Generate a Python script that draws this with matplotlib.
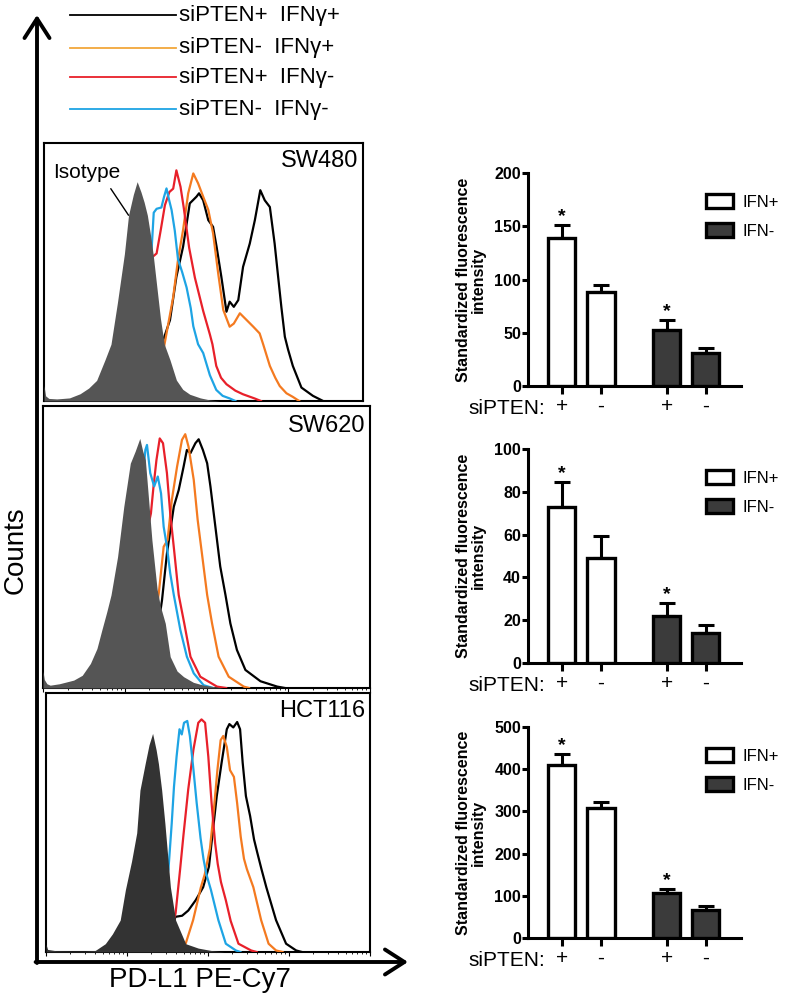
import matplotlib
matplotlib.use("Agg")
import matplotlib.pyplot as plt
from matplotlib.patches import Patch
import numpy as np

plt.rcParams["font.family"] = ["Liberation Sans", "DejaVu Sans"]

W, H = 789, 1000

# histogram traces, x = % of panel width, y = % of panel height
sw480_iso_x = [0, 0.5, 1.5, 4, 8, 11.3, 14, 16.5, 19.1, 21, 23, 25.2, 26.5, 28, 29.2, 30.4, 31.4, 32.4, 33.3, 34.2, 35.3, 36.5, 37.7, 39.5, 41.5, 43.5, 45.7, 49, 52, 55]
sw480_iso_y = [6, 2, 1, 0.8, 1.2, 2.8, 5, 8, 15.9, 22, 38, 57, 72, 80, 85, 81, 77, 72, 65, 57, 45, 32, 22, 15.9, 8.1, 4.5, 2.6, 1.2, 0.4, 0]
sw480_blue_x = [28, 33.7, 34.4, 35.3, 36.8, 37.6, 38.4, 39.2, 40, 41, 42, 43.3, 44.7, 46, 46.8, 48.3, 49.9, 52, 54, 56, 58.2, 60]
sw480_blue_y = [30, 58, 73, 74.5, 75, 79, 82.4, 78, 74, 66, 55, 50, 44, 36, 29, 22, 18.6, 10, 4.3, 2, 1, 0]
sw480_red_x = [28, 33.9, 35.3, 36.6, 37.9, 39.3, 40.5, 41.5, 42.8, 43.8, 45.5, 47.3, 49.9, 52, 52.8, 54, 55.5, 57.2, 60, 62.4, 66, 68]
sw480_red_y = [30, 55.7, 57.2, 66.3, 75.9, 81, 82.3, 89.4, 83, 75, 59.4, 47.8, 34.9, 25.8, 22, 13.6, 9, 6.5, 4, 2.6, 1, 0]
sw480_orange_x = [36, 40.5, 42, 43.6, 45.2, 46.8, 48.3, 49.9, 51.5, 53, 54.6, 56.2, 58.2, 59.5, 61.4, 63.5, 65.6, 67.6, 68.7, 70.8, 72.5, 73.9, 76, 78, 80]
sw480_orange_y = [10, 40.3, 54.7, 66.3, 80.5, 88.2, 84.4, 79.2, 74.1, 65, 49.5, 35.3, 28.8, 30, 34, 31.4, 28.8, 26.2, 22, 13.6, 9, 5.8, 3, 1.6, 0]
sw480_black_x = [36, 37.4, 39.5, 41.5, 43.6, 45.7, 47.8, 48.6, 49.9, 51.5, 53, 54.1, 55.6, 57.2, 58.2, 59.5, 60.9, 62.4, 64.5, 66.1, 67.8, 69.2, 70.8, 72.3, 73.4, 74.4, 75.5, 76.5, 78, 80.7, 84.3, 87.5]
sw480_black_y = [10, 23.7, 31.4, 48.1, 59.8, 76.6, 79.2, 80.5, 77.8, 70.1, 67.5, 59.8, 48.1, 34.6, 38.5, 36.5, 39.1, 52, 61, 70.1, 81.7, 77.8, 75.2, 61, 48.1, 36.5, 24.9, 20, 13.6, 5.2, 2, 0]

sw620_iso_x = [0, 0.4, 1.2, 2.2, 5, 9.4, 12, 14.5, 16.5, 18, 19.5, 20.8, 22.8, 24.7, 26.7, 28.2, 29.6, 30.5, 31.3, 32.3, 33.3, 34.9, 35.9, 37.4, 38.9, 41, 43, 46, 49.1, 55]
sw620_iso_y = [6, 3, 1.5, 1, 1.5, 2.8, 4.5, 8.7, 14, 20.6, 27, 33, 46.5, 64.3, 79.7, 84, 88.5, 84, 80.9, 66.7, 52.5, 35, 29, 22.9, 11.1, 6, 4, 2, 1, 0]
sw620_blue_x = [28, 31.3, 31.8, 32.8, 34, 35.1, 36.1, 36.9, 37.9, 38.9, 40, 42, 44, 46.1, 49.1, 52]
sw620_blue_y = [40, 84.4, 86.2, 76.2, 71.5, 75, 69, 57.2, 50.1, 40.7, 33, 20.6, 11.1, 5.2, 1, 0]
sw620_red_x = [29, 33, 33.8, 34.7, 35.7, 36.7, 37.9, 38.9, 40.2, 41.5, 43.2, 45.1, 48.1, 53.2, 56]
sw620_red_y = [40, 61.9, 71.5, 80.9, 88.5, 86.8, 76.2, 62, 47.7, 33, 22.9, 11.1, 4, 0.5, 0]
sw620_orange_x = [33, 35.4, 36.9, 38.1, 39.4, 41, 42.5, 43.5, 44.5, 46.1, 47.3, 48.6, 50.2, 51.7, 53.7, 56.8, 61.4, 63]
sw620_orange_y = [15, 33.5, 50.1, 52.5, 66.7, 78.5, 88, 90, 85.6, 73.8, 59.6, 47.7, 33, 22.9, 11.1, 4, 0.5, 0]
sw620_black_x = [34, 36.4, 37.9, 40, 41.5, 43, 44, 45.1, 46.6, 47.6, 48.9, 50.2, 51.2, 52.7, 54.2, 55.8, 57.3, 59.3, 61.9, 66.5, 71.6, 74]
sw620_black_y = [12, 31.2, 47.7, 64.3, 70.2, 78.5, 84.4, 83.3, 86.8, 88.2, 84.4, 79.7, 71.5, 57.3, 43.1, 33, 22.9, 13.5, 6.4, 2.4, 0.5, 0]

hct116_iso_x = [0, 0.5, 3, 8, 12, 15.2, 18.3, 20.5, 22.9, 24.5, 26.4, 28, 29, 30.6, 31.8, 32.9, 34, 34.7, 35.7, 36.7, 37.7, 38.4, 40, 43.1, 47, 50.9, 55]
hct116_iso_y = [3, 1, 0.5, 0.4, 0.4, 0.6, 3.2, 7, 12.3, 24, 35, 46, 62.5, 72.7, 80, 84.4, 78, 72.7, 62.5, 49.6, 35, 25, 12.3, 3.2, 1.5, 0.6, 0]
hct116_blue_x = [36, 37.8, 38.8, 39.5, 40.3, 41.2, 41.9, 42.6, 43.6, 44.4, 45.5, 46.5, 47.7, 48.6, 49.5, 50.9, 53.2, 55.5, 58.6, 60]
hct116_blue_y = [20, 32, 49.6, 63.8, 75.4, 86, 84, 88.5, 89.2, 83.4, 70.5, 57.6, 44, 36, 30, 24, 12.3, 3.2, 0.6, 0]
hct116_red_x = [38, 40, 41.4, 42.4, 43.9, 45.5, 47, 48, 49.1, 50.1, 51.1, 52.2, 53, 54, 55.5, 57, 59.4, 63.3, 65]
hct116_red_y = [5, 15, 32, 44.8, 62.8, 78.1, 88.5, 89.8, 88.5, 75.4, 57.6, 42, 34, 27, 20, 12, 3.2, 0.6, 0]
hct116_orange_x = [40, 43.1, 45.4, 47.8, 49, 50.6, 51.6, 52.9, 53.9, 54.7, 55.8, 56.8, 58, 59, 60.1, 61.1, 62, 64, 66.4, 68.7, 71, 73]
hct116_orange_y = [0.5, 3.2, 12.3, 25, 30, 40, 52, 70.2, 81.8, 83.4, 79.2, 70.2, 67.6, 57.4, 44.5, 36, 32, 25, 12.3, 3.2, 0.6, 0]
hct116_black_x = [38, 40, 42, 43.9, 46.2, 48.5, 50.3, 51.1, 52.7, 54.2, 55.8, 56.6, 57.8, 59, 59.9, 60.7, 61.7, 63, 64.2, 65.2, 66.5, 68, 71, 74.1, 77.2, 79]
hct116_black_y = [8, 13.6, 14, 16, 20, 25, 33, 42.2, 60.2, 73.1, 86, 88, 86.7, 88.8, 86, 73.1, 60.2, 52.5, 43.5, 38.4, 32, 25, 12.3, 3.2, 0.6, 0]

series_labels = ["siPTEN+  IFNγ+", "siPTEN-  IFNγ+", "siPTEN+  IFNγ-", "siPTEN-  IFNγ-"]
curve_colors = ["black", "#f47a20", "#e8202a", "#1ea4e4"]
legend_colors = ["black", "#f2a73a", "#e8202a", "#1ea4e4"]

# bar charts
sipten = ["+", "-", "+", "-"]
ifn_labels = ["IFN+", "IFN-"]
sw480_mean = [139, 88, 53, 31]
sw480_err = [12, 7, 9, 5]
sw620_mean = [73, 49, 22, 14]
sw620_err = [11.5, 10.5, 6, 3.7]
hct116_mean = [411, 309, 106, 66]
hct116_err = [26, 13, 10, 11]
significant = [True, False, True, False]


def pix_axes(fig, left, top, right, bottom):
    return fig.add_axes([left / W, 1 - bottom / H, (right - left) / W, (bottom - top) / H])


def draw_hist(ax, name, iso_color, iso, curves):
    # curves in the order black, orange, red, blue
    for (x, y), c in zip(curves, curve_colors):
        ax.plot(x, y, color=c, lw=1.6, zorder=3)
    ax.fill_between(iso[0], iso[1], color=iso_color, lw=0, zorder=5)
    ax.set_xlim(0, 100)
    ax.set_ylim(0, 100)
    ax.set_xticks([])
    ax.set_yticks([])
    for s in ax.spines.values():
        s.set_linewidth(1.5)
    ax.text(0.985, 0.93, name, transform=ax.transAxes, ha="right", va="center", fontsize=17)


def log_ticks(ax):
    majors = [0, 25, 50, 75, 100]
    minors = []
    for d in range(4):
        minors += list(25 * d + 25 * np.log10(np.arange(2, 10)))
    ax.set_xticks(majors)
    ax.set_xticks(minors, minor=True)
    ax.set_xticklabels([])
    ax.tick_params(axis="x", which="major", length=3, width=0.8, direction="out")
    ax.tick_params(axis="x", which="minor", length=1.5, width=0.6, direction="out")


def draw_bars(ax, means, errs, ymax, step):
    bar_x = [0, 1.4, 3.75, 5.14]
    fills = ["white", "white", "#3b3b3b", "#3b3b3b"]
    ax.errorbar(bar_x, means, yerr=[np.zeros(4), errs], fmt="none", ecolor="black",
                elinewidth=2.2, capsize=5.5, capthick=2.2, zorder=2)
    ax.bar(bar_x, means, width=0.98, color=fills, edgecolor="black", linewidth=2.4, zorder=3)
    for i in range(4):
        if significant[i]:
            ax.annotate("*", (bar_x[i], means[i] + errs[i]), xytext=(0, 0), textcoords="offset points",
                        ha="center", va="bottom", fontsize=14, fontweight="bold")
    ax.set_xlim(-1.2, 6.4)
    ax.set_ylim(0, ymax)
    ax.set_yticks(np.arange(0, ymax + 1, step))
    ax.set_xticks(bar_x)
    ax.set_xticklabels(sipten, fontsize=15)
    for lab in ax.get_yticklabels():
        lab.set_fontweight("bold")
        lab.set_fontsize(11.5)
    ax.spines["top"].set_visible(False)
    ax.spines["right"].set_visible(False)
    ax.spines["left"].set_linewidth(2.2)
    ax.spines["bottom"].set_linewidth(2.2)
    ax.tick_params(axis="y", length=4, width=2.2, pad=1)
    ax.tick_params(axis="x", length=6, width=2.2, pad=2)
    ax.set_ylabel("Standardized fluorescence\nintensity", fontsize=11.5, fontweight="bold",
                  linespacing=1.0, labelpad=6)
    ax.annotate("siPTEN:", (-0.6, 0), xycoords=("data", "axes fraction"), xytext=(0, -16),
                textcoords="offset points", ha="right", va="center", fontsize=15)
    handles = [Patch(facecolor="white", edgecolor="black", linewidth=2.4),
               Patch(facecolor="#3b3b3b", edgecolor="black", linewidth=2.4)]
    ax.legend(handles, ifn_labels, loc="upper left", bbox_to_anchor=(0.836, 0.90), frameon=False,
              fontsize=12, handlelength=1.6, handleheight=0.9, handletextpad=0.6,
              labelspacing=0.8, borderpad=0, borderaxespad=0)


fig = plt.figure(figsize=(W / 100, H / 100), dpi=100)

# histogram panels
ax1 = pix_axes(fig, 44, 143, 363, 401)
draw_hist(ax1, "SW480", "#555555", (sw480_iso_x, sw480_iso_y),
          [(sw480_black_x, sw480_black_y), (sw480_orange_x, sw480_orange_y),
           (sw480_red_x, sw480_red_y), (sw480_blue_x, sw480_blue_y)])
ax1.annotate("Isotype", xy=(26.5, 72), xytext=(13.3, 88.4), ha="center", va="center", fontsize=15,
             arrowprops=dict(arrowstyle="-", lw=1, color="black", relpos=(0.8, 0), shrinkA=3, shrinkB=0))

ax2 = pix_axes(fig, 43, 406, 370, 688)
draw_hist(ax2, "SW620", "#555555", (sw620_iso_x, sw620_iso_y),
          [(sw620_black_x, sw620_black_y), (sw620_orange_x, sw620_orange_y),
           (sw620_red_x, sw620_red_y), (sw620_blue_x, sw620_blue_y)])
log_ticks(ax2)

ax3 = pix_axes(fig, 46, 693, 370, 952)
draw_hist(ax3, "HCT116", "#333333", (hct116_iso_x, hct116_iso_y),
          [(hct116_black_x, hct116_black_y), (hct116_orange_x, hct116_orange_y),
           (hct116_red_x, hct116_red_y), (hct116_blue_x, hct116_blue_y)])
log_ticks(ax3)

# bar charts
b1 = pix_axes(fig, 528, 173, 741, 386)
draw_bars(b1, sw480_mean, sw480_err, 200, 50)
b2 = pix_axes(fig, 528, 449, 741, 663)
draw_bars(b2, sw620_mean, sw620_err, 100, 20)
b3 = pix_axes(fig, 528, 727, 741, 938)
draw_bars(b3, hct116_mean, hct116_err, 500, 100)

# overlay for axis arrows, legend and axis titles (pixel coordinates)
ov = fig.add_axes([0, 0, 1, 1], zorder=10)
ov.set_xlim(0, W)
ov.set_ylim(H, 0)
ov.axis("off")
ov.patch.set_alpha(0)
arrow = dict(arrowstyle="->,head_length=0.7,head_width=0.45", lw=2.8, color="black", mutation_scale=20,
             shrinkA=0, shrinkB=0)
ov.annotate("", xy=(37, 15), xytext=(37, 963), arrowprops=arrow)
ov.annotate("", xy=(408, 962), xytext=(35.6, 962), arrowprops=arrow)
ov.text(16, 550, "Counts", rotation=90, ha="center", va="center", fontsize=20)
ov.text(200, 980, "PD-L1 PE-Cy7", ha="center", va="center", fontsize=20)

legend_y = [15, 48, 77, 109]
for lab, col, y in zip(series_labels, legend_colors, legend_y):
    ov.plot([70, 176], [y, y], color=col, lw=1.3)
    ov.text(179, y, lab, ha="left", va="center", fontsize=16)

fig.savefig("out.png", dpi=100)
